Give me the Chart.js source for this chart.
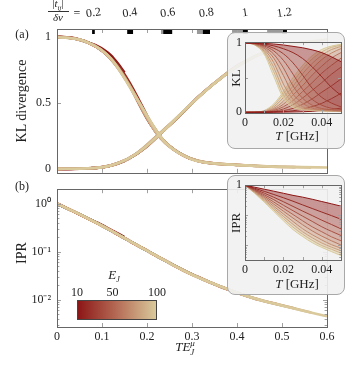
<!DOCTYPE html>
<html>
<head>
<meta charset="utf-8">
<script src="https://cdn.jsdelivr.net/npm/chart.js@4.4.0/dist/chart.umd.min.js"></script>
<style>
  body { margin: 0; background: #fff; width: 346px; height: 375px; overflow: hidden; position: relative;
         font-family: "Liberation Serif", serif; color: #222; }
  .c { position: absolute; }
  .box { position: absolute; box-sizing: border-box; border: 1px solid #a8a8a8; border-radius: 8px;
         background: rgba(241, 241, 241, 0.9); }
  .t { position: absolute; transform: translate(-50%, -50%); white-space: nowrap; line-height: 1; }
  .rot { transform: translate(-50%, -50%) rotate(-90deg); }
  .stack { display: inline-block; vertical-align: middle; line-height: 0.95; font-size: 9px; text-align: left; }
  #cbar { position: absolute; left: 77px; top: 300px; width: 80px; height: 20px; box-sizing: border-box;
          border: 1px solid #444; }
</style>
</head>
<body>
<div class="c" style="left:0;top:0"><canvas id="ca" width="346" height="186"></canvas></div>
<div class="c" style="left:0;top:176px"><canvas id="cb" width="346" height="199"></canvas></div>

<div class="t" style="left:22px;top:34px;font-size:12px">(a)</div>
<div class="t" style="left:22px;top:186px;font-size:12px">(b)</div>
<div class="t rot" style="left:22px;top:101px;font-size:14px">KL divergence</div>
<div class="t rot" style="left:22px;top:253px;font-size:14px">IPR</div>
<div class="t" style="left:185px;top:348px;font-size:13px"><i>TE</i><span class="stack"><i>μ</i><br><i>J</i></span></div>

<!-- top axis title: |t_ij| / δν = -->
<div class="t" style="left:58px;top:5px;font-size:11px">|<i>t</i><sub style="font-size:7px"><i>ij</i></sub>|</div>
<div style="position:absolute;left:48px;top:11px;width:21px;height:0;border-top:0.8px solid #333"></div>
<div class="t" style="left:58px;top:17px;font-size:11px"><i>δν</i></div>
<div class="t" style="left:77px;top:13px;font-size:12px">=</div>

<!-- colour bar -->
<div id="cbar"></div>
<div class="t" style="left:114px;top:276px;font-size:13px"><i>E</i><sub style="font-size:8px"><i>J</i></sub></div>
<div id="cbticks"></div>

<!-- insets -->
<div class="box" style="left:227px;top:32px;width:118px;height:117px"></div>
<div class="c" style="left:227px;top:32px"><canvas id="ia" width="118" height="117"></canvas></div>
<div class="t rot" style="left:235px;top:78px;font-size:13px">KL</div>
<div class="t" style="left:297px;top:135px;font-size:13px"><i>T</i> [GHz]</div>

<div class="box" style="left:227px;top:175px;width:118px;height:120px"></div>
<div class="c" style="left:227px;top:175px"><canvas id="ib" width="118" height="120"></canvas></div>
<div class="t rot" style="left:235px;top:223px;font-size:13px">IPR</div>
<div class="t" style="left:297px;top:283px;font-size:13px"><i>T</i> [GHz]</div>

<script>
// time grid of the insets (GHz) and one curve per E_J
const tGrid = [0, 0.005, 0.01, 0.015, 0.02, 0.025, 0.03, 0.035, 0.04, 0.045, 0.05];
const ejValues = [10, 20, 30, 40, 50, 60, 70, 80, 90, 100];
// E_J^mu factor that collapses the curves in the main panels
const ejMu = [3.0, 4.6, 5.9, 7.0, 8.0, 8.9, 9.8, 10.6, 11.3, 12.0];

const klDecay = [
  [1, 0.998, 0.993, 0.984, 0.97, 0.95, 0.93, 0.90, 0.86, 0.80, 0.73],
  [1, 0.995, 0.982, 0.957, 0.916, 0.86, 0.775, 0.655, 0.51, 0.36, 0.245],
  [1, 0.994, 0.97, 0.923, 0.843, 0.712, 0.535, 0.346, 0.215, 0.133, 0.078],
  [1, 0.99, 0.956, 0.884, 0.748, 0.55, 0.33, 0.186, 0.102, 0.058, 0.04],
  [1, 0.99, 0.94, 0.836, 0.64, 0.38, 0.202, 0.102, 0.054, 0.038, 0.03],
  [1, 0.983, 0.922, 0.78, 0.53, 0.263, 0.13, 0.061, 0.039, 0.03, 0.021],
  [1, 0.98, 0.904, 0.714, 0.407, 0.186, 0.08, 0.043, 0.032, 0.022, 0.016],
  [1, 0.977, 0.88, 0.646, 0.318, 0.134, 0.056, 0.037, 0.025, 0.017, 0.013],
  [1, 0.972, 0.86, 0.583, 0.247, 0.1, 0.044, 0.031, 0.02, 0.015, 0.011],
  [1, 0.97, 0.836, 0.516, 0.202, 0.07, 0.038, 0.026, 0.017, 0.013, 0.01]
];
// KL divergence, rising branch
const klRise = [
  [0, 0, 0, 0.002, 0.003, 0.005, 0.008, 0.014, 0.026, 0.042, 0.06],
  [0, 0, 0.002, 0.004, 0.008, 0.022, 0.046, 0.082, 0.13, 0.196, 0.274],
  [0, 0, 0.003, 0.007, 0.024, 0.057, 0.115, 0.193, 0.29, 0.38, 0.48],
  [0, 0.001, 0.004, 0.014, 0.048, 0.11, 0.206, 0.316, 0.428, 0.548, 0.65],
  [0, 0.001, 0.006, 0.026, 0.08, 0.17, 0.30, 0.428, 0.564, 0.676, 0.78],
  [0, 0.001, 0.008, 0.04, 0.117, 0.251, 0.384, 0.537, 0.666, 0.782, 0.86],
  [0, 0.002, 0.01, 0.056, 0.16, 0.316, 0.478, 0.63, 0.76, 0.854, 0.918],
  [0, 0.002, 0.015, 0.078, 0.213, 0.378, 0.556, 0.705, 0.822, 0.904, 0.948],
  [0, 0.003, 0.02, 0.1, 0.263, 0.44, 0.62, 0.768, 0.872, 0.935, 0.966],
  [0, 0.003, 0.026, 0.122, 0.30, 0.50, 0.676, 0.816, 0.906, 0.954, 0.98]
];
const iprCurves = [
  [1, 0.857, 0.736, 0.631, 0.538, 0.458, 0.40, 0.34, 0.285, 0.24, 0.20],
  [1, 0.79, 0.625, 0.489, 0.381, 0.292, 0.22, 0.167, 0.127, 0.097, 0.073],
  [1, 0.74, 0.545, 0.396, 0.281, 0.196, 0.137, 0.097, 0.068, 0.049, 0.035],
  [1, 0.70, 0.483, 0.329, 0.215, 0.141, 0.093, 0.062, 0.041, 0.029, 0.021],
  [1, 0.668, 0.435, 0.274, 0.169, 0.105, 0.065, 0.041, 0.028, 0.019, 0.014],
  [1, 0.637, 0.394, 0.232, 0.136, 0.08, 0.048, 0.03, 0.02, 0.014, 0.0101],
  [1, 0.607, 0.358, 0.197, 0.11, 0.0615, 0.0353, 0.0223, 0.0149, 0.0104, 0.008],
  [1, 0.581, 0.325, 0.171, 0.091, 0.0495, 0.028, 0.0177, 0.0118, 0.0086, 0.0065],
  [1, 0.56, 0.299, 0.151, 0.077, 0.04, 0.0232, 0.0145, 0.0097, 0.0073, 0.0054],
  [1, 0.538, 0.274, 0.133, 0.065, 0.033, 0.0194, 0.0121, 0.0084, 0.0061, 0.0045]
];

// top axis of panel (a): |t_ij|/δν
const topTickPos = [0.081, 0.162, 0.246, 0.332, 0.418, 0.505];
const topTickLabels = ['0.2', '0.4', '0.6', '0.8', '1', '1.2'];
const blackMarks = [[0.078, 0.084], [0.156, 0.169], [0.236, 0.256], [0.324, 0.34], [0.413, 0.424], [0.5, 0.511]];
const grayMarks = [[0.231, 0.236], [0.311, 0.324], [0.389, 0.413], [0.467, 0.5]];

// axis ticks
const xTicksMain = [0, 0.1, 0.2, 0.3, 0.4, 0.5, 0.6];
const yTicksA = [0, 0.5, 1];
const yTicksB = [1, 0.1, 0.01];
const yTickLabelsB = ['10\u2070', '10\u207B\u00B9', '10\u207B\u00B2'];
const xTicksInset = [0, 0.02, 0.04];
const cbarTicks = [10, 50, 100];

Chart.defaults.font.family = '"Liberation Serif", serif';
Chart.defaults.font.size = 12;
Chart.defaults.color = '#222';

// dark red -> beige colour map over E_J
const stops = [[0, [140, 22, 22]], [0.5, [181, 108, 86]], [1, [217, 201, 155]]];
function cmap(ej, a = 1) {
  const f = (ej - 10) / 90;
  let i = f <= 0.5 ? 0 : 1;
  const u = (f - stops[i][0]) / (stops[i + 1][0] - stops[i][0]);
  const c = stops[i][1].map((v, k) => Math.round(v + (stops[i + 1][1][k] - v) * u));
  return `rgba(${c[0]},${c[1]},${c[2]},${a})`;
}

document.getElementById('cbar').style.background =
  `linear-gradient(to right, ${cmap(10)}, ${cmap(55)}, ${cmap(100)})`;
const cbt = document.getElementById('cbticks');
cbarTicks.forEach(v => {
  const d = document.createElement('div');
  d.className = 't';
  d.style.cssText = `left:${77 + (v - 10) / 90 * 80}px;top:292px;font-size:12px`;
  d.textContent = v;
  cbt.appendChild(d);
});

// frame, inward ticks and top marks, pgfplots style
function frame(cfg) {
  return {
    id: 'frame',
    afterDatasetsDraw(chart) {
      const { ctx, chartArea: a } = chart;
      const sx = chart.scales.x, sy = chart.scales.y;
      const len = cfg.len || 4;
      ctx.save();
      (cfg.marks || []).forEach(([list, col]) => {
        ctx.fillStyle = col;
        list.forEach(m => {
          const x0 = sx.getPixelForValue(m[0]), x1 = sx.getPixelForValue(m[1]);
          ctx.fillRect(x0, a.top, x1 - x0, 5);
        });
      });
      ctx.strokeStyle = '#a0a0a0';
      ctx.lineWidth = 1;
      ctx.beginPath();
      (cfg.xTicks || []).forEach(v => {
        const x = Math.round(sx.getPixelForValue(v)) + 0.5;
        ctx.moveTo(x, a.bottom); ctx.lineTo(x, a.bottom - len);
        ctx.moveTo(x, a.top); ctx.lineTo(x, a.top + len);
      });
      (cfg.yTicks || []).forEach(v => {
        const y = Math.round(sy.getPixelForValue(v)) + 0.5;
        ctx.moveTo(a.left, y); ctx.lineTo(a.left + len, y);
        ctx.moveTo(a.right, y); ctx.lineTo(a.right - len, y);
      });
      (cfg.yMinor || []).forEach(v => {
        if (v < sy.min || v > sy.max) return;
        const y = Math.round(sy.getPixelForValue(v)) + 0.5;
        ctx.moveTo(a.left, y); ctx.lineTo(a.left + len * 0.6, y);
        ctx.moveTo(a.right, y); ctx.lineTo(a.right - len * 0.6, y);
      });
      ctx.stroke();
      ctx.strokeStyle = '#666';
      ctx.strokeRect(Math.round(a.left) + 0.5, Math.round(a.top) + 0.5,
                     Math.round(a.right - a.left), Math.round(a.bottom - a.top));
      if (cfg.topLabels) {
        ctx.fillStyle = '#222';
        ctx.font = '12px "Liberation Serif", serif';
        ctx.textAlign = 'center';
        ctx.textBaseline = 'middle';
        cfg.topLabels.pos.forEach((v, i) => {
          ctx.save();
          ctx.translate(sx.getPixelForValue(v), 13);
          ctx.rotate(-0.14);
          ctx.fillText(cfg.topLabels.text[i], 0, 0);
          ctx.restore();
        });
      }
      ctx.restore();
    }
  };
}

function minorLog(lo, hi) {
  const out = [];
  for (let d = lo; d <= hi; d *= 10) for (let m = 2; m <= 9; m++) out.push(+(m * d).toPrecision(3));
  return out;
}

const common = {
  responsive: false, animation: false, events: [],
  plugins: { legend: { display: false }, tooltip: { enabled: false } },
  elements: { point: { radius: 0 }, line: { cubicInterpolationMode: 'monotone' } }
};
const noGrid = { grid: { display: false, drawTicks: false }, border: { display: false } };

// main panels: curves against T * E_J^mu, lightest drawn on top
const order = ejValues.map((_, i) => i).reverse();
function mainSets(series, width) {
  const out = [];
  order.forEach(i => series.forEach(ys => out.push({
    data: tGrid.map((t, k) => ({ x: t * ejMu[i], y: ys[i][k] })),
    borderColor: cmap(ejValues[i]), borderWidth: width, fill: false
  })));
  return out;
}

new Chart(document.getElementById('ca'), {
  type: 'line',
  data: { datasets: mainSets([klDecay, klRise], 2.6) },
  options: {
    ...common,
    layout: { padding: { top: 29, right: 19, bottom: 12, left: 0 } },
    scales: {
      x: { type: 'linear', min: 0, max: 0.6, display: false },
      y: { min: -0.03, max: 1.06, ...noGrid,
           afterFit: s => { s.width = 57; },
           afterBuildTicks: s => { s.ticks = yTicksA.map(v => ({ value: v })); },
           ticks: { padding: 6, callback: v => String(v) } }
    }
  },
  plugins: [frame({ xTicks: xTicksMain.slice(1, -1), yTicks: [0.5],
                    marks: [[grayMarks, '#9a9a9a'], [blackMarks, '#000']],
                    topLabels: { pos: topTickPos, text: topTickLabels } })]
});

new Chart(document.getElementById('cb'), {
  type: 'line',
  data: { datasets: mainSets([iprCurves], 2.6) },
  options: {
    ...common,
    layout: { padding: { top: 2, right: 19, bottom: 0, left: 0 } },
    scales: {
      x: { type: 'linear', min: 0, max: 0.6, ...noGrid,
           afterFit: s => { s.height = 48; },
           afterBuildTicks: s => { s.ticks = xTicksMain.map(v => ({ value: v })); },
           ticks: { padding: 3, maxRotation: 0, callback: v => v === 0 ? '0' : v.toFixed(1) } },
      y: { type: 'logarithmic', min: 0.0027, max: 2.0, ...noGrid,
           afterFit: s => { s.width = 57; },
           afterBuildTicks: s => { s.ticks = yTicksB.map(v => ({ value: v })); },
           ticks: { padding: 6, callback: v => yTickLabelsB[yTicksB.indexOf(v)] } }
    }
  },
  plugins: [frame({ xTicks: xTicksMain.slice(1, -1), yTicks: yTicksB, yMinor: minorLog(0.001, 1) })]
});

// insets: fans of curves against T, filled between neighbouring E_J
function fanSets(series) {
  return ejValues.map((ej, i) => ({
    data: tGrid.map((t, k) => ({ x: t, y: series[i][k] })),
    borderColor: cmap(ej), borderWidth: 1,
    backgroundColor: cmap(ej, 0.45),
    fill: i === 0 ? false : '-1'
  }));
}
function insetX() {
  return { type: 'linear', min: 0, max: 0.05, ...noGrid,
           afterFit: s => { s.height = 36; },
           afterBuildTicks: s => { s.ticks = xTicksInset.map(v => ({ value: v })); },
           ticks: { padding: 3, maxRotation: 0, callback: v => v === 0 ? '0' : String(v) } };
}

const insetA = fanSets(klDecay).concat(fanSets(klRise));
new Chart(document.getElementById('ia'), {
  type: 'line',
  data: { datasets: insetA },
  options: {
    ...common,
    layout: { padding: { top: 9, right: 4, bottom: 0, left: 0 } },
    scales: {
      x: insetX(),
      y: { min: -0.01, max: 1.01, ...noGrid,
           afterFit: s => { s.width = 18; },
           afterBuildTicks: s => { s.ticks = [0, 1].map(v => ({ value: v })); },
           ticks: { padding: 3, callback: v => String(v) } }
    }
  },
  plugins: [frame({ xTicks: [0.01, 0.02, 0.03, 0.04], yTicks: [0.5], len: 3 })]
});

const ipX = insetX();
ipX.afterFit = s => { s.height = 35; };
new Chart(document.getElementById('ib'), {
  type: 'line',
  data: { datasets: fanSets(iprCurves) },
  options: {
    ...common,
    layout: { padding: { top: 10, right: 4, bottom: 0, left: 0 } },
    scales: {
      x: ipX,
      y: { type: 'logarithmic', min: 0.0032, max: 1, ...noGrid,
           afterFit: s => { s.width = 18; },
           afterBuildTicks: s => { s.ticks = [{ value: 1 }]; },
           ticks: { padding: 3, callback: () => '1' } }
    }
  },
  plugins: [frame({ xTicks: [0.01, 0.02, 0.03, 0.04], yTicks: [0.1, 0.01], yMinor: minorLog(0.001, 0.1), len: 3 })]
});
</script>
</body>
</html>
